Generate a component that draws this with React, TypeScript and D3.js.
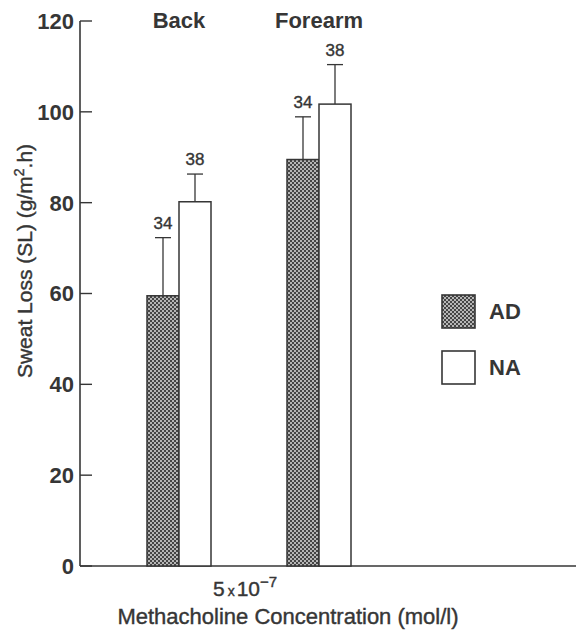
import React from 'react'
import * as d3 from 'd3'

// values
const categories = ['Back', 'Forearm']
const series = ['AD', 'NA']
const adMeans = [59.5, 89.5]
const adErrors = [12.8, 9.4]
const adN = [34, 34]
const naMeans = [80.2, 101.7]
const naErrors = [6.1, 8.7]
const naN = [38, 38]
const yTicks = [0, 20, 40, 60, 80, 100, 120]

const ink = '#363636'
const font = 'Liberation Sans, Arial, Helvetica, sans-serif'

export default function App() {
    const width = 576
    const height = 630

    // positions of the plot frame
    const axisX = 80
    const yScale = d3.scaleLinear().domain([0, 120]).range([566, 21])
    const xScale = d3.scalePoint().domain(categories).range([179, 319])
    const barScale = d3.scaleBand().domain(series).range([-32, 32]).padding(0)

    const bars = categories.flatMap((cat, i) => [
        { cat, s: 'AD', mean: adMeans[i], err: adErrors[i], n: adN[i] },
        { cat, s: 'NA', mean: naMeans[i], err: naErrors[i], n: naN[i] }
    ])

    const fillFor = (s: string) => (s === 'AD' ? 'url(#dots)' : '#fff')
    // the print is a touch heavier than regular weight
    const medium = { stroke: ink, strokeWidth: 0.4 }

    return (
        <svg width={width} height={height} style={{ position: 'absolute', left: 0, top: 0, background: '#fff' }}
            fontFamily={font}>
            <defs>
                <pattern id="dots" width="4" height="4" patternUnits="userSpaceOnUse">
                    <rect width="4" height="4" fill="#454545" />
                    <circle cx="1" cy="1" r="0.95" fill="#e6e6e6" />
                    <circle cx="3" cy="3" r="0.95" fill="#e6e6e6" />
                </pattern>
            </defs>

            {/* y axis */}
            <line x1={axisX} x2={axisX} y1={yScale(120)} y2={yScale(0)} stroke={ink} strokeWidth={1.6} />
            {yTicks.map(t => (
                <g key={t}>
                    <line x1={axisX} x2={axisX + 12} y1={yScale(t)} y2={yScale(t)} stroke={ink} strokeWidth={1.4} />
                    <text x={axisX - 6} y={yScale(t)} dy="0.36em" textAnchor="end" fontSize={22}
                        fontWeight="bold" fill={ink}>{t}</text>
                </g>
            ))}

            {/* x axis */}
            <line x1={axisX} x2={width} y1={yScale(0)} y2={yScale(0)} stroke={ink} strokeWidth={1.6} />

            {/* category headers */}
            {categories.map(c => (
                <text key={c} x={xScale(c)} y={28} textAnchor="middle" fontSize={22} fontWeight="bold"
                    fill={ink}>{c}</text>
            ))}

            {/* bars with upper error bars */}
            {bars.map(b => {
                const x0 = (xScale(b.cat) as number) + (barScale(b.s) as number)
                const bw = barScale.bandwidth()
                const cx = x0 + bw / 2
                const top = yScale(b.mean)
                const errTop = yScale(b.mean + b.err)
                return (
                    <g key={b.cat + b.s}>
                        <line x1={cx} x2={cx} y1={top} y2={errTop} stroke={ink} strokeWidth={1.3} />
                        <line x1={cx - 8} x2={cx + 8} y1={errTop} y2={errTop} stroke={ink} strokeWidth={1.3} />
                        <rect x={x0} y={top} width={bw} height={yScale(0) - top} fill={fillFor(b.s)}
                            stroke={ink} strokeWidth={1.5} />
                        <text x={cx} y={errTop - 9} textAnchor="middle" fontSize={17} fill={ink}
                            {...medium}>{b.n}</text>
                    </g>
                )
            })}

            {/* legend */}
            {series.map((s, i) => (
                <g key={s} transform={`translate(442, ${295 + i * 56})`}>
                    <rect width={33} height={33} fill={fillFor(s)} stroke={ink} strokeWidth={1.6} />
                    <text x={47} y={16.5} dy="0.36em" fontSize={22} fontWeight="bold" fill={ink}>{s}</text>
                </g>
            ))}

            {/* x axis labels */}
            <text x={213} y={596} fontSize={21} fill={ink} {...medium}>
                5<tspan fontSize={14} dx={3}>x</tspan><tspan dx={2}>10</tspan>
                <tspan fontSize={15} dy={-9}>−7</tspan>
            </text>
            <text x={288} y={624} textAnchor="middle" fontSize={22} fill={ink} {...medium}>
                Methacholine Concentration (mol/l)
            </text>

            {/* y axis label */}
            <text transform="translate(32, 261) rotate(-90)" textAnchor="middle" fontSize={21} fill={ink}
                {...medium}>
                Sweat Loss (SL) (g/m<tspan fontSize={14} dy={-8}>2</tspan><tspan dy={8}>.h)</tspan>
            </text>
        </svg>
    )
}
